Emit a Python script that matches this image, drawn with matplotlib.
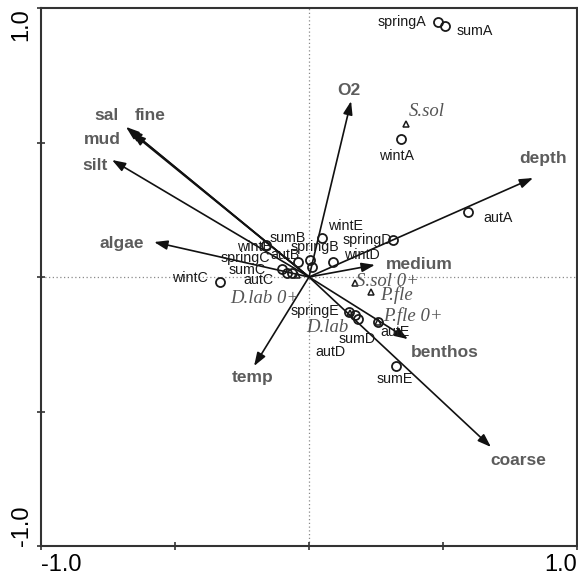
import matplotlib.pyplot as plt

# environmental variables (arrows from origin)
env_names = ['sal', 'fine', 'mud', 'silt', 'algae', 'O2', 'depth', 'medium', 'coarse', 'benthos', 'temp']
env_x = [-0.683, -0.672, -0.660, -0.735, -0.578, 0.157, 0.836, 0.246, 0.679, 0.369, -0.205]
env_y = [0.558, 0.550, 0.535, 0.435, 0.130, 0.654, 0.368, 0.045, -0.632, -0.231, -0.331]
env_lab_x = [-0.754, -0.593, -0.772, -0.799, -0.698, 0.149, 0.873, 0.410, 0.780, 0.507, -0.209]
env_lab_y = [0.602, 0.602, 0.513, 0.416, 0.126, 0.695, 0.442, 0.048, -0.684, -0.279, -0.375]

# sites (open circles)
site_names = ['springA', 'sumA', 'wintA', 'autA', 'wintE', 'springD', 'wintD', 'sumB', 'springB',
              'autB', 'wintB', 'springC', 'sumC', 'autC', 'wintC', 'springE', 'autD', 'sumD',
              'autE', 'sumE']
site_x = [0.481, 0.507, 0.343, 0.593, 0.049, 0.313, 0.090, 0.004, 0.011,
          -0.041, -0.160, -0.101, -0.082, -0.063, -0.332, 0.149, 0.172, 0.183,
          0.257, 0.325]
site_y = [0.948, 0.933, 0.513, 0.242, 0.145, 0.138, 0.056, 0.063, 0.037,
          0.056, 0.119, 0.030, 0.015, 0.015, -0.019, -0.130, -0.141, -0.156,
          -0.167, -0.331]

# species (open triangles)
spec_names = ['S.sol', 'S.sol 0+', 'P.fle', 'P.fle 0+', 'D.lab', 'D.lab 0+']
spec_x = [0.362, 0.172, 0.231, 0.257, 0.153, -0.045]
spec_y = [0.569, -0.022, -0.056, -0.167, -0.134, 0.007]

# label offsets in pixels
site_off = {'springA': (-36, 0), 'sumA': (30, -5), 'wintA': (-4, -17), 'autA': (30, -6),
            'wintE': (23, 12), 'springD': (-26, 0), 'wintD': (29, 7), 'sumB': (-22, 22),
            'springB': (3, 20), 'autB': (-13, 7), 'wintB': (-12, -2), 'springC': (-37, 11),
            'sumC': (-40, 3), 'autC': (-34, -7), 'wintC': (-30, 4), 'springE': (-34, 1),
            'autD': (-25, -37), 'sumD': (-1, -20), 'autE': (17, -10), 'sumE': (-1, -13)}
spec_off = {'S.sol': (21, 12), 'S.sol 0+': (32, 1), 'P.fle': (26, -3), 'P.fle 0+': (35, 6),
            'D.lab': (-23, -14), 'D.lab 0+': (-32, -23)}

plt.rcParams['font.family'] = ['Liberation Sans', 'DejaVu Sans']

fig = plt.figure(figsize=(5.78, 5.78), dpi=100)
ax = fig.add_axes([41 / 578, 32 / 578, 536 / 578, 538 / 578])
ax.set_xlim(-1, 1)
ax.set_ylim(-1, 1)

ax.axhline(0, color='#8a8a8a', lw=0.9, ls=(0, (1, 2)), zorder=1)
ax.axvline(0, color='#8a8a8a', lw=0.9, ls=(0, (1, 2)), zorder=1)

for name, x, y, lx, ly in zip(env_names, env_x, env_y, env_lab_x, env_lab_y):
    ax.annotate('', xy=(x, y), xytext=(0, 0),
                arrowprops=dict(arrowstyle='-|>,head_length=0.8,head_width=0.28',
                                color='#111111', lw=1.2, shrinkA=0, shrinkB=0), zorder=2)
    ax.text(lx, ly, name, ha='center', va='center', fontsize=12.5, fontweight='bold',
            color='#5c5c5c', zorder=4)

ax.plot(site_x, site_y, 'o', ms=6.5, mfc='none', mec='#1a1a1a', mew=1.3, zorder=3)
for name, x, y in zip(site_names, site_x, site_y):
    ax.annotate(name, (x, y), xytext=site_off[name], textcoords='offset pixels',
                ha='center', va='center', fontsize=10.3, color='#1a1a1a', zorder=4)

ax.plot(spec_x, spec_y, '^', ms=5, mfc='none', mec='#1a1a1a', mew=1.1, zorder=3)
for name, x, y in zip(spec_names, spec_x, spec_y):
    ax.annotate(name, (x, y), xytext=spec_off[name], textcoords='offset pixels',
                ha='center', va='center', fontsize=13.5, fontstyle='italic',
                family='Liberation Serif', color='#555555', zorder=4)

for s in ax.spines.values():
    s.set_linewidth(1.5)
    s.set_color('#333333')

ax.set_xticks([-1, -0.5, 0, 0.5, 1])
ax.set_yticks([-1, -0.5, 0, 0.5, 1])
ax.set_xticklabels(['-1.0', '', '', '', '1.0'], fontsize=17)
ax.set_yticklabels(['-1.0', '', '', '', '1.0'], fontsize=17, rotation=90)
ax.tick_params(direction='inout', length=6, width=1.2, color='#333333', pad=3)
xl = ax.get_xticklabels()
xl[0].set_ha('left')
xl[-1].set_ha('right')
yl = ax.get_yticklabels()
yl[0].set_va('bottom')
yl[-1].set_va('top')
for t in yl:
    t.set_ha('right')

fig.savefig('out.png', dpi=100, facecolor='white')
